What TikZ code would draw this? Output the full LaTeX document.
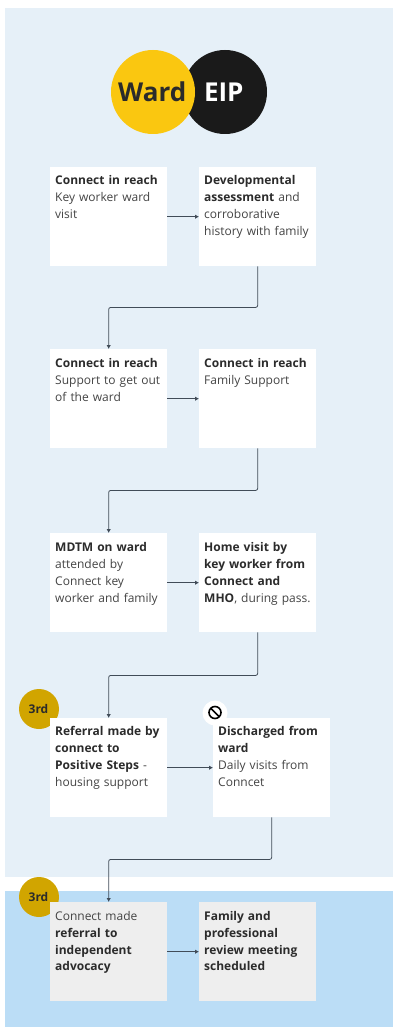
\documentclass[tikz,border=0pt]{standalone}
\usepackage{fontspec}
\setmainfont{Open Sans}
\usetikzlibrary{arrows.meta}
\definecolor{bandtop}{HTML}{E6F0F8}
\definecolor{bandlow}{HTML}{BBDDF6}
\definecolor{boxgrey}{HTML}{EEEEEE}
\definecolor{wardy}{HTML}{FAC710}
\definecolor{eipk}{HTML}{1A1A1A}
\definecolor{gold}{HTML}{D1A500}
\definecolor{txt}{HTML}{444444}
\definecolor{txtb}{HTML}{2B2B2B}
\definecolor{linec}{HTML}{414C58}
\newcommand{\bd}[1]{{\bfseries\color{txtb}#1}}
\tikzset{
  x=1pt,y=-1pt,
  stepbox/.style={fill=white,anchor=north west,minimum width=117pt,inner xsep=5pt,inner ysep=5pt,
    text width=107pt,align=left,text height=12.5pt,text depth=76.5pt,text=txt,
    font=\fontsize{12pt}{17pt}\selectfont},
  lowbox/.style={stepbox,text height=13.5pt,text depth=75.5pt},
  greybox/.style={lowbox,fill=boxgrey},
  flow/.style={draw=linec,line width=0.8pt,rounded corners=2pt,-{Latex[length=4pt,width=4.5pt]}},
  rank/.style={circle,fill=gold,minimum size=40pt,inner sep=0pt,text=txtb,font=\fontsize{12pt}{14pt}\selectfont\bfseries},
}
\begin{document}
\begin{tikzpicture}
\useasboundingbox (0,0) rectangle (393,1027);
\fill[white] (0,0) rectangle (393,1027);
\fill[bandtop] (5,8) rectangle (393,877);
\fill[bandlow] (5,891) rectangle (393,1027);

\node[circle,fill=eipk,minimum size=84pt,inner sep=0pt,text=white,font=\fontsize{26pt}{30pt}\selectfont\bfseries] (eip) at (225,92) {\hspace*{-2.5pt}EIP};
\node[circle,fill=wardy,minimum size=84pt,inner sep=0pt,text=txtb,font=\fontsize{26pt}{30pt}\selectfont\bfseries] (ward) at (153,92) {\hspace*{-1.5pt}Ward};

\node[rank] (r1) at (39,709) {\hspace*{-1pt}3rd};
\node[rank] (r2) at (39,897) {\hspace*{-1pt}3rd};

\node[stepbox] (a1) at (50,167) {\bd{Connect in reach}\\Key worker ward\\visit};
\node[stepbox] (a2) at (199,167) {\bd{Developmental}\\\bd{assessment} and\\corroborative\\history with family};
\node[lowbox] (b1) at (50,349) {\bd{Connect in reach}\\Support to get out\\of the ward};
\node[lowbox] (b2) at (199,349) {\bd{Connect in reach}\\Family Support};
\node[lowbox] (c1) at (50,533) {\bd{MDTM on ward}\\attended by\\Connect key\\worker and family};
\node[lowbox] (c2) at (199,533) {\bd{Home visit by}\\\bd{key worker from}\\\bd{Connect and}\\\bd{MHO}, during pass.};
\node[stepbox] (d1) at (50,718) {\bd{Referral made by}\\\bd{connect to}\\\bd{Positive Steps} -\\housing support};
\node[stepbox] (d2) at (213,718) {\bd{Discharged from}\\\bd{ward}\\Daily visits from\\Conncet};
\node[greybox] (e1) at (50,902) {Connect made\\\bd{referral to}\\\bd{independent}\\[-1pt]\bd{advocacy}};
\node[greybox] (e2) at (199,902) {\bd{Family and}\\\bd{professional}\\\bd{review meeting}\\[-1pt]\bd{scheduled}};

\draw[flow] (a1) -- (a2);
\draw[flow] (b1) -- (b2);
\draw[flow] (c1) -- (c2);
\draw[flow] (d1) -- (d2);
\draw[flow] (e1) -- (e2);
\draw[flow] (a2.south) -- ++(0,41) -| (b1.north);
\draw[flow] (b2.south) -- ++(0,42) -| (c1.north);
\draw[flow] (c2.south) -- ++(0,43) -| (d1.north);
\draw[flow] (d2.south) -- ++(0,42) -| (e1.north);

\fill[white] (215,713) circle (12.5);
\draw[black,line width=1.6pt] (215,712.5) circle (6);
\draw[black,line width=1.6pt] (210.8,708.3) -- (219.2,716.7);
\end{tikzpicture}
\end{document}
